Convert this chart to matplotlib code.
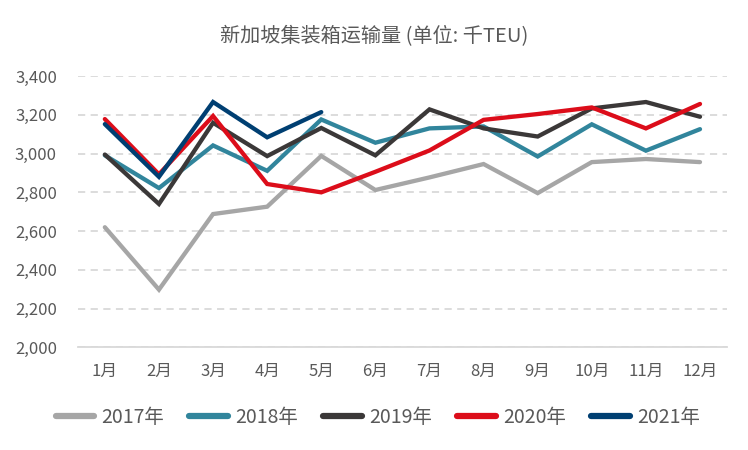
import matplotlib
matplotlib.use("Agg")
import matplotlib.pyplot as plt

plt.rcParams['font.family'] = ['Noto Sans CJK SC', 'DejaVu Sans']

months = ['1月', '2月', '3月', '4月', '5月', '6月', '7月', '8月', '9月', '10月', '11月', '12月']
y2017 = [2620, 2298, 2688, 2726, 2988, 2812, 2877, 2946, 2796, 2956, 2972, 2956]
y2018 = [2991, 2822, 3042, 2911, 3176, 3056, 3130, 3140, 2985, 3151, 3015, 3126]
y2019 = [2995, 2740, 3159, 2987, 3132, 2991, 3228, 3130, 3088, 3233, 3266, 3190]
y2020 = [3178, 2893, 3194, 2843, 2800, 2906, 3016, 3174, 3204, 3238, 3130, 3256]
y2021 = [3152, 2880, 3266, 3084, 3214]

series = [
    ('2017年', y2017, '#a6a6a6'),
    ('2018年', y2018, '#31859c'),
    ('2019年', y2019, '#3b3838'),
    ('2020年', y2020, '#dc0d1a'),
    ('2021年', y2021, '#003f72'),
]

fig = plt.figure(figsize=(7.48, 4.5), dpi=100)
ax = fig.add_axes([0.104, 0.228, 0.868, 0.603])

x = list(range(len(months)))
for name, vals, col in series:
    ax.plot(x[:len(vals)], vals, color=col, lw=3.1, label=name,
            solid_capstyle='round', solid_joinstyle='miter')

ax.set_xlim(-0.5, 11.5)
ax.set_ylim(2000, 3400)
ax.set_yticks(range(2000, 3401, 200))
ax.set_yticklabels([f'{v:,}' for v in range(2000, 3401, 200)])
ax.set_xticks(x)
ax.set_xticklabels(months)

ax.grid(axis='y', color='#d9d9d9', lw=1.3, ls=(0, (4, 3)))
ax.set_axisbelow(True)
for s in ['top', 'right', 'left']:
    ax.spines[s].set_visible(False)
ax.spines['bottom'].set_color('#d9d9d9')
ax.spines['bottom'].set_linewidth(1.3)
ax.tick_params(axis='both', length=0, colors='#595959', labelsize=12)
ax.tick_params(axis='x', pad=11)
ax.tick_params(axis='y', pad=15)

fig.text(0.5, 0.918, '新加坡集装箱运输量 (单位: 千TEU)', ha='center', va='center',
         fontsize=14.5, color='#595959')

leg = fig.legend(loc='center', bbox_to_anchor=(0.505, 0.072), ncol=5, frameon=False,
                 fontsize=14, handlelength=2.0, handletextpad=0.35, columnspacing=1.3,
                 labelcolor='#595959')
for h in leg.get_lines():
    h.set_linewidth(4.5)
    h.set_solid_capstyle('round')

fig.savefig('out.png', dpi=100)
